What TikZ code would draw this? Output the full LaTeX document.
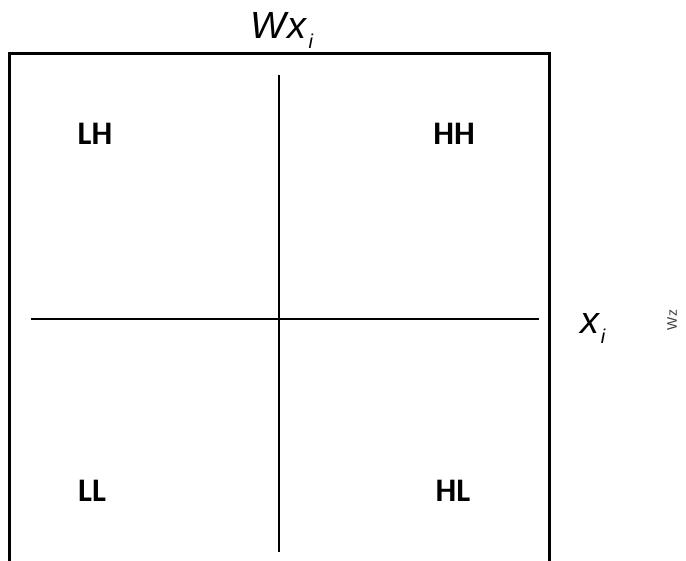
\documentclass[tikz,border=0pt]{standalone}
\usepackage{fontspec}
\setmainfont{Carlito}
\newfontfamily\axisfont{Liberation Sans}
\begin{document}
\begin{tikzpicture}[x=1bp,y=-1bp,
  quad/.style={font=\fontsize{33}{36}\selectfont\bfseries, inner sep=0pt},
  axlabel/.style={font=\axisfont\itshape\fontsize{38}{42}\selectfont, inner sep=0pt},
  frame/.style={line width=3bp, line cap=butt},
  axis/.style={line width=2.6bp}]
  \useasboundingbox (0,0) rectangle (686,561);
  % open frame (no bottom edge)
  \coordinate (bl) at (9.5,561);
  \coordinate (tl) at (9.5,54);
  \coordinate (tr) at (549,54);
  \coordinate (br) at (549,561);
  \draw[frame] (bl) -- (tl) -- (tr) -- (br);
  % axes
  \coordinate (vtop) at (279,75);
  \coordinate (vbot) at (279,552);
  \coordinate (hl) at (31,319);
  \coordinate (hr) at (539,319);
  \draw[axis] (vtop) -- (vbot);
  \draw[axis] (hl) -- (hr);
  % quadrant labels
  \node[quad] (LH) at (95,134) {LH};
  \node[quad] (HH) at (454,134) {HH};
  \node[quad] (LL) at (92,491) {LL};
  \node[quad] (HL) at (453,491) {HL};
  % axis labels
  \node[axlabel] (wx) at (282,30) {W\kern1pt x\kern2pt\raisebox{-10bp}{\fontsize{20}{20}\selectfont i}};
  \node[axlabel] (xi) at (593,328) {x\kern1pt\raisebox{-10bp}{\fontsize{20}{20}\selectfont i}};
  \node[font=\axisfont\fontsize{14}{16}\selectfont, text=black!75, rotate=90, inner sep=0pt] (wz) at (672,320) {Wz};
\end{tikzpicture}
\end{document}
